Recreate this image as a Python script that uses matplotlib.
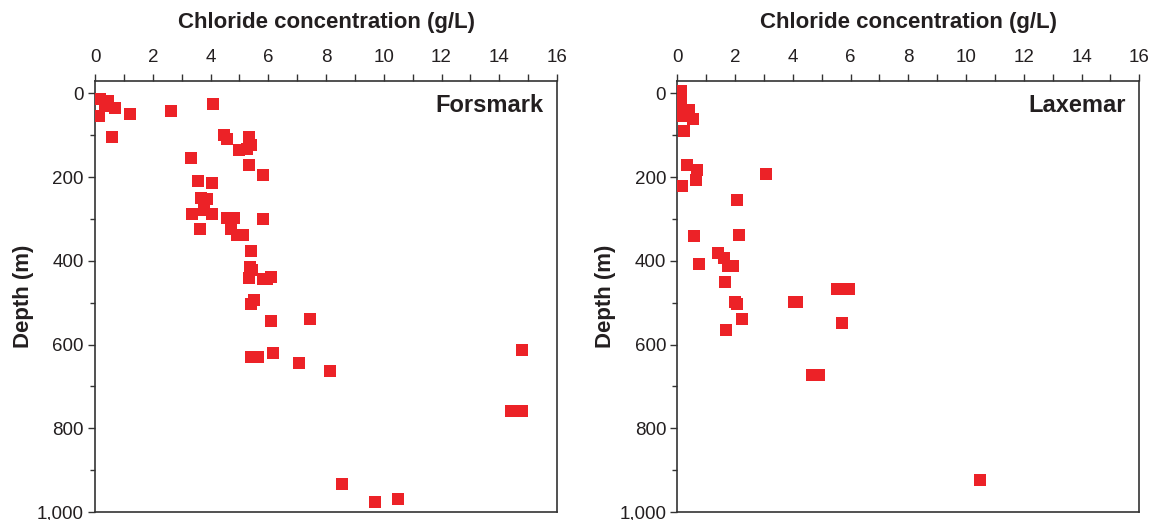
import matplotlib.pyplot as plt
from matplotlib.ticker import MultipleLocator, FuncFormatter

plt.rcParams['font.family'] = ['Liberation Sans', 'DejaVu Sans']

# Forsmark: chloride (g/L) vs depth (m)
fors_cl = [0.17, 0.46, 0.70, 0.35, 0.14, 1.22, 2.64, 0.60, 4.08,
           4.46, 4.56, 5.33, 5.39, 4.99, 5.28, 5.33, 5.83, 3.34, 3.56, 4.06,
           3.68, 3.88, 3.36, 3.77, 4.06, 4.58, 4.83, 5.80, 3.65, 4.72, 4.93, 5.12,
           5.39, 5.37, 5.43, 5.33, 5.80, 5.95, 6.11, 5.51, 5.39, 6.09, 7.45,
           5.39, 5.65, 6.17, 7.07, 8.15, 14.79, 14.41, 14.79, 8.57, 9.68, 10.51]
fors_depth = [14, 18, 34, 30, 54, 50, 43, 105, 26,
              100, 109, 105, 124, 136, 133, 172, 196, 153, 208, 213,
              249, 252, 289, 279, 289, 297, 297, 299, 323, 325, 337, 339,
              377, 414, 421, 441, 443, 443, 438, 493, 502, 543, 539,
              630, 630, 620, 644, 663, 613, 759, 759, 932, 977, 970]

# Laxemar
lax_cl = [0.12, 0.12, 0.12, 0.12, 0.40, 0.55, 0.24, 0.33, 0.67, 0.65, 0.15,
          3.07, 2.08, 0.59, 2.14, 1.42, 1.63, 0.76, 1.77, 1.94, 1.65,
          2.00, 2.08, 4.05, 4.15, 5.52, 5.93, 5.72, 2.25, 1.70, 4.66, 4.92, 10.5]
lax_depth = [-5, 15, 35, 55, 40, 61, 89, 171, 184, 206, 220,
             192, 255, 341, 339, 381, 392, 408, 412, 412, 451,
             499, 504, 499, 499, 468, 466, 549, 540, 564, 672, 672, 923]

fig = plt.figure(figsize=(11.59, 5.2), dpi=100)
ax1 = fig.add_axes([0.082, 0.0154, 0.3986, 0.829])
ax2 = fig.add_axes([0.5844, 0.0154, 0.3986, 0.829])

for ax, x, y, name in [(ax1, fors_cl, fors_depth, 'Forsmark'),
                       (ax2, lax_cl, lax_depth, 'Laxemar')]:
    ax.scatter(x, y, marker='s', s=64, color='#ec2227', linewidths=0, zorder=3)
    ax.set_xlim(0, 16)
    ax.set_ylim(1000, -30)
    ax.xaxis.tick_top()
    ax.xaxis.set_label_position('top')
    ax.xaxis.set_major_locator(MultipleLocator(2))
    ax.xaxis.set_minor_locator(MultipleLocator(1))
    ax.yaxis.set_major_locator(MultipleLocator(200))
    ax.yaxis.set_minor_locator(MultipleLocator(100))
    ax.yaxis.set_major_formatter(FuncFormatter(lambda v, p: f'{int(v):,}'))
    ax.tick_params(which='major', direction='out', length=5, width=1,
                   labelsize=13.5, colors='#333333', labelcolor='#231f20', pad=3)
    ax.tick_params(axis='x', which='major', pad=6)
    ax.tick_params(which='minor', direction='out', width=1, colors='#333333')
    ax.tick_params(axis='x', which='minor', length=5)
    ax.tick_params(axis='y', which='minor', length=3.5)
    for sp in ax.spines.values():
        sp.set_color('#333333')
        sp.set_linewidth(1.2)
    ax.set_xlabel('Chloride concentration (g/L)', fontsize=16, fontweight='bold',
                  color='#231f20', labelpad=15)
    ax.set_ylabel('Depth (m)', fontsize=16, fontweight='bold', color='#231f20',
                  labelpad=2)
    ax.text(0.97, 0.944, name, transform=ax.transAxes, ha='right', va='center',
            fontsize=17, fontweight='bold', color='#231f20')

fig.savefig('out.png', dpi=100)
